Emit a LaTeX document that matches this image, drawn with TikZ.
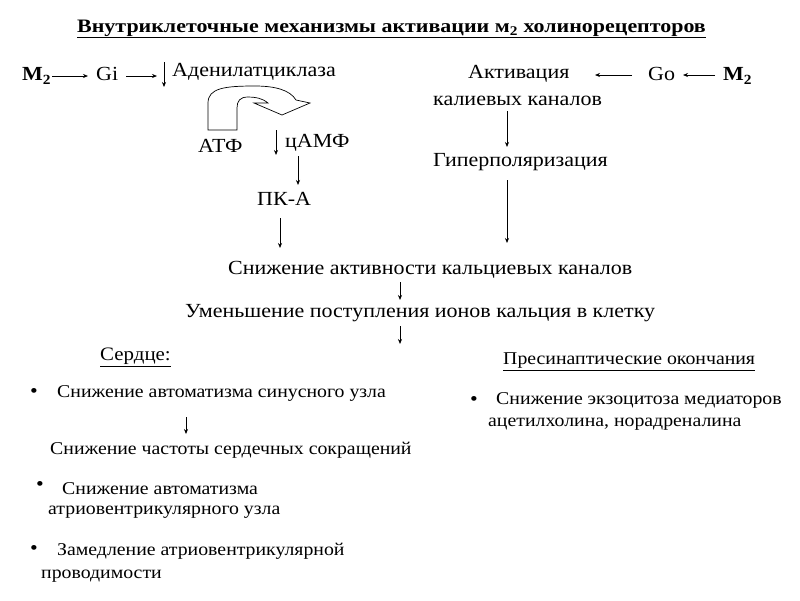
\documentclass[tikz,border=0pt]{standalone}
\usepackage{fontspec}
\setmainfont[FakeStretch=1.1]{Liberation Serif}
\usetikzlibrary{arrows.meta,calc}
\tikzset{
  txt/.style={inner sep=0pt, anchor=west, font=\fontsize{20}{22}\selectfont},
  sm/.style={inner sep=0pt, anchor=west, font=\fontsize{18}{20}\selectfont},
  bul/.style={inner sep=0pt, anchor=base, font=\fontsize{20}{22}\selectfont},
  arr/.style={-{Stealth[length=5pt,width=4pt]}, line width=0.7pt},
  big/.style={draw, line width=0.7pt, fill=white},
}
\begin{document}
\begin{tikzpicture}[x=1pt,y=-1pt]
\useasboundingbox (0,0) rectangle (800,600);
% title
\node[inner sep=0pt, anchor=west, font=\fontsize{19}{21}\selectfont\bfseries, xscale=1.05] (title) at (77,29)
  {\underline{Внутриклеточные механизмы активации м\textsubscript{2} холинорецепторов}};
% left top row
\node[txt, font=\fontsize{20}{22}\selectfont\bfseries] (m2l) at (22,76) {М\textsubscript{2}};
\node[txt] (gi) at (96,74) {Gi};
\node[txt] (adc) at (172,72) {Аденилатциклаза};
\coordinate (d1t) at (164,62);
\coordinate (d1b) at (164,87);
\draw[arr] (m2l.east) ++(1,0) coordinate (a1s) -- (88,76) coordinate (a1e);
\draw[arr] (126,76) coordinate (a2s) -- (157,76) coordinate (a2e);
\draw[arr] (d1t) -- (d1b);
% curved block arrow
\draw[big, line join=miter]
  (208,130) -- (208,103)
  .. controls (208,88) and (225,86) .. (255,86)
  .. controls (275,86) and (290,90) .. (296,100)
  -- (310,103) -- (282,115) -- (254,103) -- (268,103)
  .. controls (262,98) and (255,97) .. (248,97)
  .. controls (240,97) and (237,101) .. (237,108)
  -- (237,130) -- cycle;
\node[txt] (atf) at (198,146) {АТФ};
\node[txt] (camf) at (285,143) {цАМФ};
\coordinate (d2t) at (276,130);
\coordinate (d2b) at (276,155);
\draw[arr] (d2t) -- (d2b);
\node[txt] (pka) at (257,199) {ПК-А};
\draw[arr] (298,156) coordinate (c1) -- (298,185) coordinate (c2);
\draw[arr] (280,218) coordinate (c3) -- (280,248) coordinate (c4);
% right top
\node[txt] (akt) at (468,74) {Активация};
\node[txt] (kal) at (433,101) {калиевых каналов};
\node[txt] (go) at (648,74) {Go};
\node[txt, font=\fontsize{20}{22}\selectfont\bfseries] (m2r) at (723,76) {М\textsubscript{2}};
\draw[arr] (632,75) coordinate (b1s) -- (595,75) coordinate (b1e);
\draw[arr] (715,75) coordinate (b2s) -- (683,75) coordinate (b2e);
\node[txt] (hyp) at (433,162) {Гиперполяризация};
\draw[arr] (507,111) coordinate (e1) -- (507,147) coordinate (e2);
\draw[arr] (507,180) coordinate (e3) -- (507,243) coordinate (e4);
% middle
\node[txt] (ca) at (228,270) {Снижение активности кальциевых каналов};
\node[txt] (um) at (185,313) {Уменьшение поступления ионов кальция в клетку};
\draw[arr] (400,282) coordinate (f1) -- (400,300) coordinate (f2);
\draw[arr] (400,326) coordinate (f3) -- (400,344) coordinate (f4);
% heart
\node[sm, font=\fontsize{19}{21}\selectfont] (heart) at (100,357) {\underline{Сердце:}};
\node[bul] (b1) at (34,397) {•};
\node[sm] (h1) at (57,393) {Снижение автоматизма синусного узла};
\draw[arr] (186,417) coordinate (g1) -- (186,434) coordinate (g2);
\node[sm] (h2) at (50,450) {Снижение частоты сердечных сокращений};
\node[bul] (b2) at (40,490) {•};
\node[sm] (h3) at (62,489) {Снижение автоматизма};
\node[sm] (h3b) at (48,512) {атриовентрикулярного узла};
\node[bul] (b3) at (34,554) {•};
\node[sm] (h4) at (57,551) {Замедление атриовентрикулярной};
\node[sm] (h4b) at (41,576) {проводимости};
% presynaptic
\node[sm] (pre) at (503,362) {\underline{Пресинаптические окончания}};
\node[bul] (b4) at (474,405) {•};
\node[sm] (p1) at (496,400) {Снижение экзоцитоза медиаторов};
\node[sm] (p2) at (488,424) {ацетилхолина, норадреналина};
\end{tikzpicture}
\end{document}
